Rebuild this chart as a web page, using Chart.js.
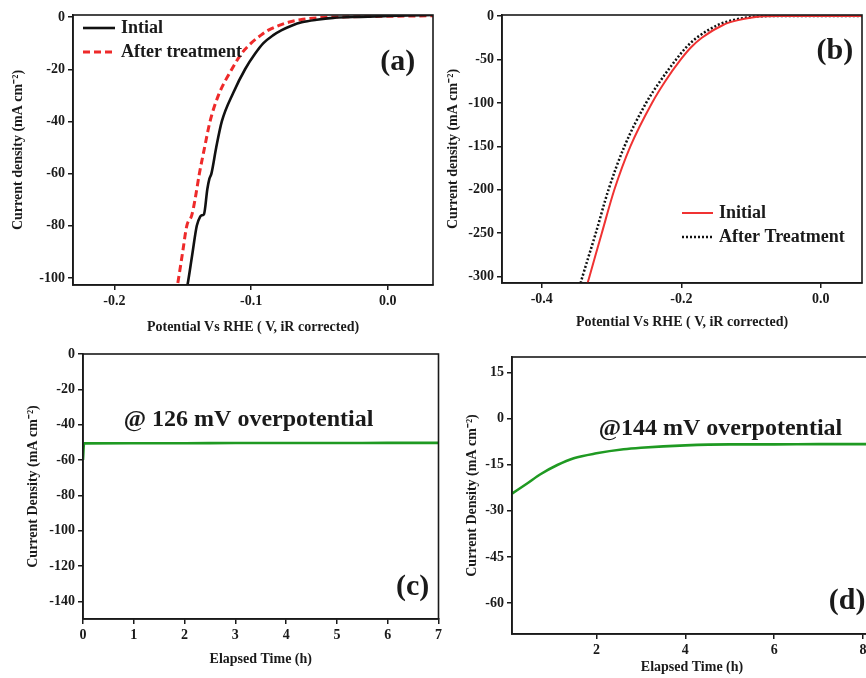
<!DOCTYPE html>
<html>
<head>
<meta charset="utf-8">
<script src="https://cdn.jsdelivr.net/npm/chart.js@4.4.0/dist/chart.umd.min.js"></script>
<style>
  html, body { margin: 0; padding: 0; background: #fff; overflow: hidden; }
  body { width: 866px; height: 678px; position: relative; }
  canvas { position: absolute; }
</style>
</head>
<body>
<canvas id="chartA" width="440" height="338" style="left:0px;top:0px"></canvas>
<canvas id="chartB" width="426" height="338" style="left:440px;top:0px"></canvas>
<canvas id="chartC" width="445" height="340" style="left:0px;top:338px"></canvas>
<canvas id="chartD" width="440" height="345" style="left:445px;top:338px"></canvas>
<script>
//(a) polarization curves, potential (V) and current density (mA cm-2)
const aInitialV = [-0.1475, -0.1466, -0.1430, -0.1397, -0.1372, -0.1360, -0.1344, -0.1320, -0.1305, -0.1290, -0.1255, -0.1214, -0.1130, -0.1044, -0.0970, -0.0910, -0.0840, -0.0776, -0.0700, -0.0630, -0.0520, -0.0400, -0.0200, 0.0000, 0.0150, 0.0330];
const aInitialJ = [-105, -103, -91, -80, -76.5, -76, -75.5, -66, -62, -60, -50, -40, -29, -20, -14, -10, -7, -5, -3.2, -2, -1, -0.3, 0.1, 0.4, 0.6, 0.8];
const aTreatedV = [-0.1550, -0.1539, -0.1500, -0.1470, -0.1434, -0.1410, -0.1378, -0.1340, -0.1300, -0.1239, -0.1141, -0.1070, -0.1000, -0.0930, -0.0873, -0.0800, -0.0727, -0.0640, -0.0495, -0.0300, 0.0000, 0.0330];
const aTreatedJ = [-106, -103, -90, -80, -76, -70, -60, -50, -40, -30, -20, -14, -10, -7, -5, -3.3, -2, -1, -0.2, 0.1, 0.3, 0.5];
const aXTicks = [-0.2, -0.1, 0.0];
const aXLabels = ['-0.2', '-0.1', '0.0'];
const aYTicks = [0, -20, -40, -60, -80, -100];

//(b) polarization curves, wider range
const bInitialV = [-0.3360, -0.3317, -0.3140, -0.2960, -0.2730, -0.2420, -0.2230, -0.2007, -0.1860, -0.1706, -0.1395, -0.1200, -0.1010, -0.0820, -0.0600, -0.0300, 0.0000, 0.0590];
const bInitialJ = [-312, -300, -250, -200, -150, -100, -75, -50, -36, -25, -10, -5, -2, -0.3, 0, 0, 0, 0];
const bTreatedV = [-0.3460, -0.3417, -0.3226, -0.3044, -0.2815, -0.2504, -0.2303, -0.2074, -0.1930, -0.1778, -0.1467, -0.1276, -0.1085, -0.0870, -0.0650, -0.0300, 0.0000, 0.0590];
const bTreatedJ = [-312, -300, -250, -200, -150, -100, -75, -50, -36, -25, -10, -5, -2, -0.3, 0, 0, 0, 0];
const bXTicks = [-0.4, -0.2, 0.0];
const bXLabels = ['-0.4', '-0.2', '0.0'];
const bYTicks = [0, -50, -100, -150, -200, -250, -300];

//(c) stability at 126 mV
const cTime = [0, 0.02, 1, 2, 3, 4, 5, 6, 7];
const cJ = [-60, -50.6, -50.5, -50.5, -50.4, -50.4, -50.4, -50.3, -50.3];
const cXTicks = [0, 1, 2, 3, 4, 5, 6, 7];
const cYTicks = [0, -20, -40, -60, -80, -100, -120, -140];

//(d) stability at 144 mV
const dTime = [0.1, 0.44, 0.74, 1.12, 1.49, 2.0, 2.61, 3.0, 4.0, 5.0, 6.0, 7.0, 8.0, 8.3];
const dJ = [-24.4, -21.1, -18.1, -15.1, -12.9, -11.3, -10.0, -9.5, -8.7, -8.4, -8.4, -8.3, -8.3, -8.3];
const dXTicks = [2, 4, 6, 8];
const dYTicks = [15, 0, -15, -30, -45, -60];

const FONT = '"Liberation Serif", "Times New Roman", serif';
const INK = '#1a1a1a';

function pts(xs, ys) {
  return xs.map((x, i) => ({x: x, y: ys[i]}));
}

//box around the plot area
const framePlugin = {
  id: 'frame',
  afterDraw(chart) {
    const a = chart.chartArea;
    const ctx = chart.ctx;
    ctx.save();
    ctx.strokeStyle = INK;
    ctx.lineWidth = 1.6;
    ctx.strokeRect(a.left, a.top, a.right - a.left, a.bottom - a.top);
    ctx.restore();
  }
};

//text written at data coordinates
function notes(items) {
  return {
    id: 'notes',
    afterDatasetsDraw(chart) {
      const ctx = chart.ctx;
      ctx.save();
      ctx.fillStyle = INK;
      ctx.textAlign = 'center';
      ctx.textBaseline = 'middle';
      items.forEach(n => {
        ctx.font = 'bold ' + n.size + 'px ' + FONT;
        ctx.fillText(n.text, chart.scales.x.getPixelForValue(n.x), chart.scales.y.getPixelForValue(n.y));
      });
      ctx.restore();
    }
  };
}

//legend drawn inside the plot area
function insideLegend(o) {
  return {
    id: 'insideLegend',
    afterDatasetsDraw(chart) {
      const ctx = chart.ctx;
      const a = chart.chartArea;
      ctx.save();
      ctx.font = 'bold 18px ' + FONT;
      ctx.textBaseline = 'middle';
      ctx.fillStyle = INK;
      chart.data.datasets.forEach((ds, i) => {
        const x = a.left + o.dx;
        const y = a.top + o.dy + i * o.row;
        ctx.beginPath();
        ctx.strokeStyle = ds.borderColor;
        ctx.lineWidth = ds.borderWidth;
        ctx.setLineDash(ds.borderDash || []);
        ctx.moveTo(x, y);
        ctx.lineTo(x + o.len, y);
        ctx.stroke();
        ctx.setLineDash([]);
        ctx.fillText(ds.label, x + o.len + 6, y);
      });
      ctx.restore();
    }
  };
}

function axis(opt) {
  const isX = opt.isX;
  return {
    type: 'linear',
    min: opt.min,
    max: opt.max,
    afterBuildTicks: s => { s.ticks = opt.ticks.map(v => ({value: v})); },
    afterFit: s => { if (isX) s.height = opt.size; else s.width = opt.size; },
    ticks: {
      color: INK,
      padding: 3,
      maxRotation: 0,
      autoSkip: false,
      font: {family: FONT, size: 14, weight: 'bold'},
      callback: (v, i) => opt.labels ? opt.labels[i] : String(v)
    },
    grid: {
      drawOnChartArea: false,
      drawTicks: true,
      tickLength: 5,
      color: INK,
      lineWidth: 1.5
    },
    border: {display: true, color: INK, width: 1.6},
    title: {
      display: true,
      text: opt.title,
      color: INK,
      font: {family: FONT, size: 14, weight: 'bold'},
      padding: isX ? {top: 0, bottom: opt.titlePad} : {top: 0, bottom: 0}
    }
  };
}

function baseOptions(pad, xAxis, yAxis) {
  return {
    responsive: false,
    animation: false,
    events: [],
    layout: {padding: pad},
    plugins: {legend: {display: false}, tooltip: {enabled: false}},
    elements: {point: {radius: 0}, line: {tension: 0, cubicInterpolationMode: 'monotone'}},
    scales: {x: xAxis, y: yAxis}
  };
}

//Chart (a)
new Chart(document.getElementById('chartA').getContext('2d'), {
  type: 'line',
  data: {
    datasets: [{
      label: 'Intial',
      data: pts(aInitialV, aInitialJ),
      borderColor: '#111111',
      borderWidth: 2.6,
      fill: false
    }, {
      label: 'After treatment',
      data: pts(aTreatedV, aTreatedJ),
      borderColor: '#ee2a2a',
      borderWidth: 3,
      borderDash: [7, 4],
      fill: false
    }]
  },
  options: baseOptions({left: 10, top: 15, right: 7, bottom: 0},
    axis({isX: true, min: -0.2302, max: 0.033, ticks: aXTicks, labels: aXLabels, size: 53, titlePad: 2, title: 'Potential Vs RHE ( V, iR corrected)'}),
    axis({isX: false, min: -102.7, max: 0.8, ticks: aYTicks, size: 63, title: 'Current density (mA cm\u207B\u00B2)'})),
  plugins: [framePlugin, insideLegend({dx: 10, dy: 13, row: 24, len: 32}), notes([{text: '(a)', x: 0.0073, y: -17.2, size: 30}])]
});

//Chart (b)
new Chart(document.getElementById('chartB').getContext('2d'), {
  type: 'line',
  data: {
    datasets: [{
      label: 'Initial',
      data: pts(bInitialV, bInitialJ),
      borderColor: '#f03232',
      borderWidth: 2,
      fill: false
    }, {
      label: 'After Treatment',
      data: pts(bTreatedV, bTreatedJ),
      borderColor: '#111111',
      borderWidth: 2.5,
      borderDash: [2, 2],
      fill: false
    }]
  },
  options: baseOptions({left: 5, top: 15, right: 4, bottom: 0},
    axis({isX: true, min: -0.457, max: 0.059, ticks: bXTicks, labels: bXLabels, size: 55, titlePad: 7, title: 'Potential Vs RHE ( V, iR corrected)'}),
    axis({isX: false, min: -307.3, max: 1.2, ticks: bYTicks, size: 57, title: 'Current density (mA cm\u207B\u00B2)'})),
  plugins: [framePlugin, insideLegend({dx: 180, dy: 198, row: 24, len: 31}), notes([{text: '(b)', x: 0.02, y: -41, size: 30}])]
});

//Chart (c)
new Chart(document.getElementById('chartC').getContext('2d'), {
  type: 'line',
  data: {
    datasets: [{
      label: '126 mV',
      data: pts(cTime, cJ),
      borderColor: '#1f9a22',
      borderWidth: 2.6,
      fill: false
    }]
  },
  options: baseOptions({left: 25, top: 16, right: 6, bottom: 0},
    axis({isX: true, min: 0, max: 7, ticks: cXTicks, size: 59, titlePad: 10, title: 'Elapsed Time (h)'}),
    axis({isX: false, min: -150, max: 0, ticks: cYTicks, size: 58, title: 'Current Density (mA cm\u207B\u00B2)'})),
  plugins: [framePlugin, notes([
    {text: '@ 126 mV overpotential', x: 3.26, y: -37.4, size: 24},
    {text: '(c)', x: 6.49, y: -132, size: 30}
  ])]
});

//Chart (d)
new Chart(document.getElementById('chartD').getContext('2d'), {
  type: 'line',
  data: {
    datasets: [{
      label: '144 mV',
      data: pts(dTime, dJ),
      borderColor: '#1f9a22',
      borderWidth: 2.6,
      fill: false
    }]
  },
  options: baseOptions({left: 19, top: 19, right: 13, bottom: 0},
    axis({isX: true, min: 0.1, max: 8.2, ticks: dXTicks, size: 49, titlePad: 7, title: 'Elapsed Time (h)'}),
    axis({isX: false, min: -70, max: 20, ticks: dYTicks, size: 48, title: 'Current Density (mA cm\u207B\u00B2)'})),
  plugins: [framePlugin, notes([
    {text: '@144 mV overpotential', x: 4.79, y: -3.2, size: 24},
    {text: '(d)', x: 7.64, y: -59.3, size: 30}
  ])]
});
</script>
</body>
</html>
